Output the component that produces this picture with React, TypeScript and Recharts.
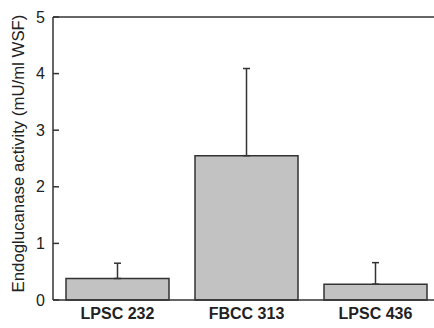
import { BarChart, Bar, XAxis, YAxis, ErrorBar, ReferenceLine } from 'recharts'

const categories = ['LPSC 232', 'FBCC 313', 'LPSC 436']
const activity = [0.38, 2.55, 0.28]
const sdUpper = [0.27, 1.54, 0.38]
const yTicks = [0, 1, 2, 3, 4, 5]

const data = categories.map((name, i) => ({
  name,
  activity: activity[i],
  err: [0, sdUpper[i]],
}))

const ink = '#333333'

const YTick = (props: any) => {
  const { x, y, payload } = props
  return (
    <g>
      <line x1={x + 8} x2={x + 14} y1={y} y2={y} stroke={ink} strokeWidth={1.5} />
      <text x={x} y={y} dy={5.5} textAnchor="end" fontSize={16} fill="#222">
        {payload.value}
      </text>
    </g>
  )
}

export default function App() {
  return (
    <div
      style={{
        position: 'absolute',
        left: 0,
        top: 0,
        width: 434,
        height: 328,
        overflow: 'hidden',
        background: '#fff',
        fontFamily: 'Liberation Sans, Arial, sans-serif',
      }}
    >
      <BarChart
        width={444}
        height={328}
        data={data}
        margin={{ top: 17, right: 4, bottom: 0, left: 0 }}
      >
        <ReferenceLine y={5} stroke={ink} strokeWidth={1.5} />
        <XAxis
          dataKey="name"
          height={28}
          tickLine={false}
          tickSize={0}
          tickMargin={8}
          stroke={ink}
          strokeWidth={1.5}
          tick={{ fontSize: 16, fontWeight: 'bold', fill: '#222' }}
        />
        <YAxis
          width={53}
          domain={[0, 5]}
          ticks={yTicks}
          tickLine={false}
          tickSize={0}
          tickMargin={8}
          stroke={ink}
          strokeWidth={1.5}
          tick={<YTick />}
          label={{
            value: 'Endoglucanase activity (mU/ml WSF)',
            angle: -90,
            position: 'center',
            dx: -8,
            dy: -5,
            fontSize: 16.8,
            fill: '#222',
          }}
        />
        <Bar
          dataKey="activity"
          barSize={103}
          fill="#c2c2c2"
          stroke={ink}
          strokeWidth={1.5}
          isAnimationActive={false}
        >
          <ErrorBar dataKey="err" width={3.5} stroke={ink} strokeWidth={1.5} direction="y" />
        </Bar>
      </BarChart>
    </div>
  )
}
